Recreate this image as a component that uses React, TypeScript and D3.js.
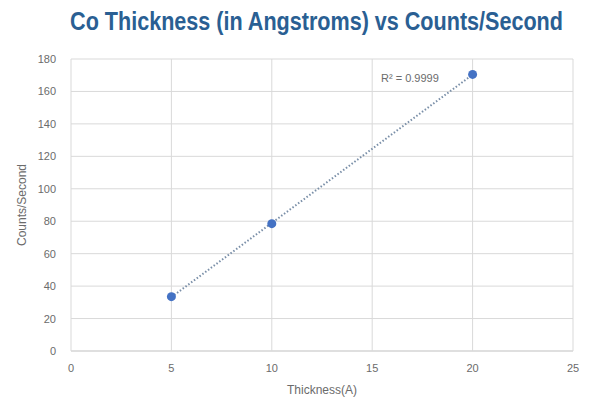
import React from "react";
import * as d3 from "d3";

const thickness = [5, 10, 20];
const counts = [33.5, 78.5, 170.5];
const xTicks = [0, 5, 10, 15, 20, 25];
const yTicks = [0, 20, 40, 60, 80, 100, 120, 140, 160, 180];
const titleText = "Co Thickness (in Angstroms) vs Counts/Second";
const xTitle = "Thickness(A)";
const yTitle = "Counts/Second";
const r2Label = "R² = 0.9999";

export default function App() {
  const W = 589, H = 402;
  const left = 71, right = 573, top = 59, bottom = 351;
  const x = d3.scaleLinear().domain([0, 25]).range([left, right]);
  const y = d3.scaleLinear().domain([0, 180]).range([bottom, top]);

  const n = thickness.length;
  const mx = d3.mean(thickness)!;
  const my = d3.mean(counts)!;
  let sxy = 0, sxx = 0;
  for (let i = 0; i < n; i++) {
    sxy += (thickness[i] - mx) * (counts[i] - my);
    sxx += (thickness[i] - mx) ** 2;
  }
  const slope = sxy / sxx;
  const icpt = my - slope * mx;
  const x0 = d3.min(thickness)!, x1 = d3.max(thickness)!;
  const line = d3.line<number>().x((d) => x(d)).y((d) => y(slope * d + icpt));

  const font = "'Liberation Sans', Arial, sans-serif";
  const gray = "#6b6b6b";

  return (
    <svg width={W} height={H} style={{ position: "absolute", left: 0, top: 0, background: "#fff" }}>
      <g transform="translate(316.5, 30) scale(0.83, 1)">
        <text x={0} y={0} textAnchor="middle" fontFamily="'Liberation Sans', sans-serif"
          fontWeight="bold" fontSize={26} fill="#2a5f93">{titleText}</text>
      </g>
      {yTicks.map((t) => (
        <line key={"gy" + t} x1={left} x2={right} y1={y(t)} y2={y(t)} stroke={t === 0 ? "#bfbfbf" : "#d9d9d9"} strokeWidth={1} />
      ))}
      {xTicks.map((t) => (
        <line key={"gx" + t} x1={x(t)} x2={x(t)} y1={top} y2={bottom} stroke="#d9d9d9" strokeWidth={1} />
      ))}
      {yTicks.map((t) => (
        <text key={"ty" + t} x={56} y={y(t) + 4} textAnchor="end" fontFamily={font} fontSize={11} fill={gray}>{t}</text>
      ))}
      {xTicks.map((t) => (
        <text key={"tx" + t} x={x(t)} y={372} textAnchor="middle" fontFamily={font} fontSize={11} fill={gray}>{t}</text>
      ))}
      <text x={x(12.5)} y={394} textAnchor="middle" fontFamily={font} fontSize={12} fill={gray}>{xTitle}</text>
      <text transform={`translate(26, ${(top + bottom) / 2}) rotate(-90)`} textAnchor="middle" fontFamily={font} fontSize={12} fill={gray}>{yTitle}</text>
      <path d={line([x0, x1]) || ""} stroke="#7a8fa8" strokeWidth={2} strokeDasharray="1.5 2" fill="none" />
      {thickness.map((t, i) => (
        <circle key={"p" + i} cx={x(t)} cy={y(counts[i])} r={4.5} fill="#4472c4" />
      ))}
      <text x={381} y={82} fontFamily={font} fontSize={11} fill={gray}>{r2Label}</text>
    </svg>
  );
}
